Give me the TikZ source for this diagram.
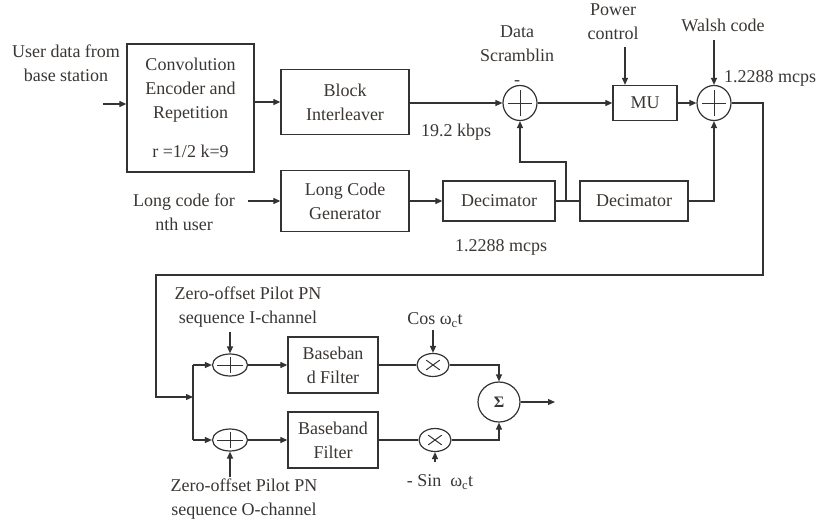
\documentclass[tikz,border=0pt]{standalone}
\usepackage{fontspec}
\setmainfont{Liberation Serif}
\usetikzlibrary{arrows.meta,shapes.geometric,calc}
\definecolor{ink}{HTML}{333333}
\definecolor{txt}{HTML}{3A3633}
\tikzset{
  every node/.style={font=\fontsize{18}{24}\selectfont, text=txt, align=center, inner sep=0pt},
  wire/.style={draw=ink, line width=1.2pt},
  arr/.style={wire, -{Triangle[length=7pt,width=6pt]}},
  block/.style={draw=ink, line width=1.3pt, rectangle},
  oplus/.style={draw=ink, line width=1.2pt, ellipse,
    path picture={
      \draw[ink, line width=1pt]
        ($(path picture bounding box.center)!0.72!(path picture bounding box.west)$) --
        ($(path picture bounding box.center)!0.72!(path picture bounding box.east)$)
        ($(path picture bounding box.center)!0.72!(path picture bounding box.north)$) --
        ($(path picture bounding box.center)!0.72!(path picture bounding box.south)$);
    }},
  otimes/.style={draw=ink, line width=1.2pt, ellipse,
    path picture={
      \draw[ink, line width=1pt]
        ($(path picture bounding box.center)!0.42!(path picture bounding box.north west)$) --
        ($(path picture bounding box.center)!0.42!(path picture bounding box.south east)$)
        ($(path picture bounding box.center)!0.42!(path picture bounding box.north east)$) --
        ($(path picture bounding box.center)!0.42!(path picture bounding box.south west)$);
    }},
}
\begin{document}
\begin{tikzpicture}[x=1pt,y=-1pt]
\useasboundingbox (0,0) rectangle (820,520);

% upper chain: coding and interleaving
\node[block, minimum width=127pt, minimum height=128pt] (conv) at (190.5,108)
  {Convolution\\Encoder and\\Repetition\\[15pt]r =1/2 k=9};
\node[block, minimum width=128pt, minimum height=65pt] (blk) at (345,102)
  {Block\\Interleaver};
\node[block, minimum width=128pt, minimum height=61pt] (lcg) at (345,201)
  {Long Code\\Generator};
\node[block, minimum width=112pt, minimum height=40pt] (dec1) at (499,201) {Decimator};
\node[block, minimum width=108pt, minimum height=40pt] (dec2) at (634,201) {Decimator};
\node[block, minimum width=64pt, minimum height=35pt] (mu) at (645,103) {MU};
\node[oplus, minimum width=34pt, minimum height=35pt] (s1) at (520,103) {};
\node[oplus, minimum width=34pt, minimum height=35pt] (s2) at (714,103) {};

% lower chain: I/Q spreading and modulation
\node[oplus, minimum width=35pt, minimum height=22pt] (c3) at (230,365) {};
\node[oplus, minimum width=35pt, minimum height=22pt] (c5) at (230,440) {};
\node[block, minimum width=90pt, minimum height=56pt] (bb1) at (333,365) {Baseban\\d Filter};
\node[block, minimum width=90pt, minimum height=56pt] (bb2) at (333,440) {Baseband\\Filter};
\node[otimes, minimum width=32pt, minimum height=23pt] (c4) at (433,365) {};
\node[otimes, minimum width=32pt, minimum height=23pt] (c6) at (435,440) {};
\node[draw=ink, line width=1.2pt, ellipse, minimum width=42pt, minimum height=40pt,
      font=\fontsize{16}{16}\selectfont\bfseries] (sig) at (499,402) {Σ};

% labels
\node (lUser) at (66,63) {User data from\\base station};
\node (lLong) at (184,212) {Long code for\\nth user};
\node (lRate1) at (456,132) {19.2 kbps};
\node (lRate2) at (501,247) {1.2288 mcps};
\node (lData) at (517,56) {Data\\Scramblin\\-};
\node (lPow) at (613,22) {Power\\control};
\node (lWal) at (723,25) {Walsh code};
\node (lRate3) at (770,78) {1.2288 mcps};
\node (lIch) at (248,307.5) {Zero-offset Pilot PN\\sequence I-channel};
\node (lCos) at (435,320) {Cos ω\textsubscript{c}t};
\node (lSin) at (440,482) {- Sin\ \ ω\textsubscript{c}t};
\node (lQch) at (244,499) {Zero-offset Pilot PN\\sequence O-channel};

% free ends of connectors
\coordinate (inU) at (103,104);
\coordinate (inL) at (248,201);
\coordinate (inP) at (625,47);
\coordinate (inW) at (714,40);
\coordinate (jD) at (566,201);
\coordinate (fbR) at (763,275);
\coordinate (fbL) at (156,275);
\coordinate (jIQ) at (193,397);
\coordinate (inI) at (230,332);
\coordinate (inC) at (433,330);
\coordinate (inQ) at (230,477);
\coordinate (inS) at (435,462);
\coordinate (out) at (555,402);

% connectors, upper part
\draw[arr] (inU) -- (inU -| conv.west);
\draw[arr] (conv.east |- blk) -- (blk.west);
\draw[arr] (blk.east |- s1) -- (s1.west);
\draw[arr] (s1.east) -- (mu.west);
\draw[arr] (inP) -- (inP |- mu.north);
\draw[arr] (mu.east) -- (s2.west);
\draw[arr] (inW) -- (s2.north);
\draw[arr] (inL) -- (lcg.west);
\draw[arr] (lcg.east) -- (dec1.west);
\draw[wire] (dec1.east) -- (dec2.west);
\draw[arr] (jD) -- (jD |- 0,162) -- (s1.south |- 0,162) -- (s1.south);
\draw[arr] (dec2.east) -- (dec2.east -| s2.south) -- (s2.south);

% feedback to the I/Q branches
\draw[arr] (s2.east) -- (s2.east -| fbR) -- (fbR) -- (fbL) -- (fbL |- jIQ) -- (jIQ);
\draw[wire] (jIQ |- c3) -- (jIQ |- c5);
\draw[arr] (jIQ |- c3) -- (c3.west);
\draw[arr] (jIQ |- c5) -- (c5.west);

% connectors, lower part
\draw[arr] (inI) -- (c3.north);
\draw[arr] (c3.east) -- (bb1.west);
\draw[wire] (bb1.east) -- (c4.west);
\draw[arr] (inC) -- (c4.north);
\draw[arr] (c4.east) -- (c4.east -| sig.north) -- (sig.north);
\draw[arr] (inQ) -- (c5.south);
\draw[arr] (c5.east) -- (bb2.west);
\draw[wire] (bb2.east) -- (c6.west);
\draw[arr] (inS) -- (c6.south);
\draw[arr] (c6.east) -- (c6.east -| sig.south) -- (sig.south);
\draw[arr] (sig.east) -- (out);
\end{tikzpicture}
\end{document}
